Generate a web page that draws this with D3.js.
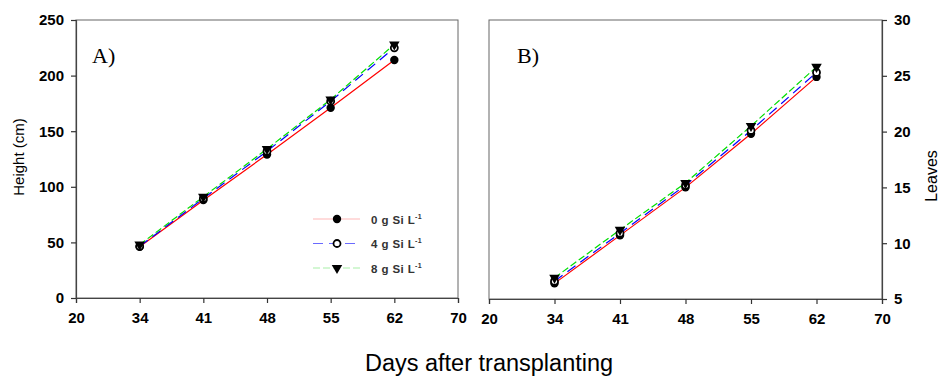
<!DOCTYPE html>
<html>
<head>
<meta charset="utf-8">
<script src="https://cdn.jsdelivr.net/npm/d3@7.9.0/dist/d3.min.js"></script>
<style>
  body { margin: 0; background: #fff; }
  svg { display: block; font-family: Arial, "Liberation Sans", sans-serif; }
</style>
</head>
<body>
<svg id="chart" width="940" height="377"></svg>
<script>
// x ticks are evenly spaced in the original (categorical axis)
const days = [34, 41, 48, 55, 62];
const xTicks = ['20', '34', '41', '48', '55', '62', '70'];

const heightTicks = [0, 50, 100, 150, 200, 250];
const leavesTicks = [5, 10, 15, 20, 25, 30];

// Height (cm)
const height0 = [46, 88, 129, 171, 214];
const height4 = [46.5, 89.5, 132, 177, 225];
const height8 = [48, 91, 134, 178.5, 228];

// Leaves
const leaves0 = [6.4, 10.7, 15.0, 19.8, 24.9];
const leaves4 = [6.6, 10.9, 15.2, 20.1, 25.3];
const leaves8 = [6.9, 11.2, 15.4, 20.5, 25.8];

const seriesNames = ['0 g Si L', '4 g Si L', '8 g Si L'];

const styles = [
  { color: '#ff0000', dash: null, marker: 'filled' },
  { color: '#0000ff', dash: '10,6', marker: 'open' },
  { color: '#00dd00', dash: '7,3', marker: 'tri' },
];

const svg = d3.select('#chart');

function drawMarker(g, type, x, y) {
  if (type === 'filled') {
    g.append('circle').attr('cx', x).attr('cy', y).attr('r', 4.2).attr('fill', '#000');
  } else if (type === 'open') {
    g.append('circle').attr('cx', x).attr('cy', y).attr('r', 3.5)
      .attr('fill', '#fff').attr('stroke', '#000').attr('stroke-width', 1.8);
  } else {
    g.append('path')
      .attr('d', d3.symbol().type(d3.symbolTriangle).size(48)())
      .attr('transform', `translate(${x},${y}) rotate(180)`)
      .attr('fill', '#000');
  }
}

function panel(opts) {
  const { left, right, top, bottom, yDomain, yTicksList, series, axisSide, label, labelDx } = opts;

  const x = d3.scalePoint().domain(xTicks).range([left, right]);
  const y = d3.scaleLinear().domain(yDomain).range([bottom, top]);

  const g = svg.append('g');

  // frame
  g.append('rect')
    .attr('x', left).attr('y', top)
    .attr('width', right - left).attr('height', bottom - top)
    .attr('fill', 'none').attr('stroke', '#666').attr('stroke-width', 1);

  // axes
  const xAxis = g.append('g')
    .attr('transform', `translate(0,${bottom})`)
    .call(d3.axisBottom(x).tickSize(5).tickPadding(9));

  const yAxis = axisSide === 'left'
    ? g.append('g').attr('transform', `translate(${left},0)`)
        .call(d3.axisLeft(y).tickValues(yTicksList).tickSize(5).tickPadding(7))
    : g.append('g').attr('transform', `translate(${right},0)`)
        .call(d3.axisRight(y).tickValues(yTicksList).tickSize(5).tickPadding(7));

  [xAxis, yAxis].forEach(a => {
    a.select('.domain').attr('stroke', '#444').attr('stroke-width', 1.2);
    a.selectAll('.tick line').attr('stroke', '#333').attr('stroke-width', 1.2);
    a.selectAll('.tick text')
      .attr('fill', '#000')
      .style('font-size', '15px')
      .style('font-weight', 'bold');
  });

  // lines
  const line = d3.line()
    .x((d, i) => x(String(days[i])))
    .y(d => y(d));

  series.forEach((vals, k) => {
    g.append('path')
      .datum(vals)
      .attr('d', line)
      .attr('fill', 'none')
      .attr('stroke', styles[k].color)
      .attr('stroke-width', 1.2)
      .attr('stroke-dasharray', styles[k].dash);
  });

  series.forEach((vals, k) => {
    vals.forEach((v, i) => drawMarker(g, styles[k].marker, x(String(days[i])), y(v)));
  });

  // panel letter
  g.append('text')
    .attr('x', left + labelDx).attr('y', top + 43)
    .style('font-family', '"Liberation Serif", "Times New Roman", serif')
    .style('font-size', '22px')
    .text(label);

  return { g, x, y };
}

const A = panel({
  left: 76, right: 458, top: 20, bottom: 298,
  yDomain: [0, 250], yTicksList: heightTicks,
  series: [height0, height4, height8], axisSide: 'left', label: 'A)', labelDx: 16
});

panel({
  left: 489, right: 882, top: 20, bottom: 299,
  yDomain: [5, 30], yTicksList: leavesTicks,
  series: [leaves0, leaves4, leaves8], axisSide: 'right', label: 'B)', labelDx: 28
});

// legend (panel A)
const legendColors = ['#ffb8b8', '#6a6aff', '#a8f0a8'];
const legend = A.g.append('g');
seriesNames.forEach((name, k) => {
  const ly = 219 + k * 24.5;
  legend.append('line')
    .attr('x1', 313).attr('x2', 360).attr('y1', ly).attr('y2', ly)
    .attr('stroke', legendColors[k]).attr('stroke-width', 1.2)
    .attr('stroke-dasharray', styles[k].dash);
  drawMarker(legend, styles[k].marker, 337, ly);
  const t = legend.append('text')
    .attr('x', 371).attr('y', ly + 4.5)
    .attr('fill', '#333')
    .style('font-size', '11.5px')
    .style('font-weight', 'bold')
    .style('letter-spacing', '0.4px')
    .text(name);
  t.append('tspan').attr('dy', -5).style('font-size', '7px').text('-1');
});

// axis titles
svg.append('text')
  .attr('transform', 'translate(24,157) rotate(-90)')
  .attr('text-anchor', 'middle')
  .style('font-size', '15px')
  .text('Height (cm)');

svg.append('text')
  .attr('transform', 'translate(937,176) rotate(-90)')
  .attr('text-anchor', 'middle')
  .style('font-size', '16px')
  .text('Leaves');

svg.append('text')
  .attr('x', 489).attr('y', 371)
  .attr('text-anchor', 'middle')
  .style('font-size', '23.5px')
  .text('Days after transplanting');
</script>
</body>
</html>
